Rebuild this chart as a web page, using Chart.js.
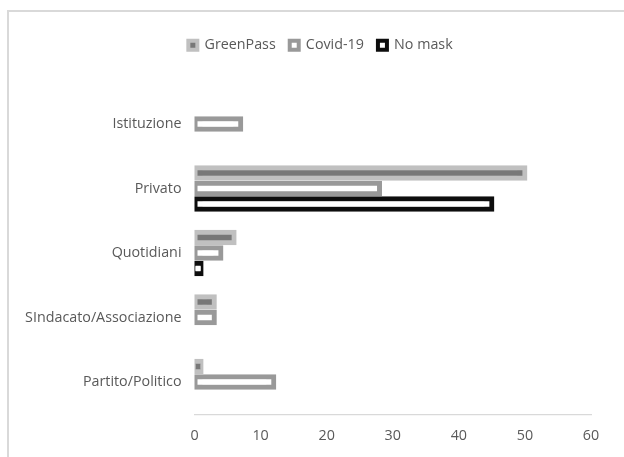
<!DOCTYPE html>
<html>
<head>
<meta charset="utf-8">
<script src="https://cdn.jsdelivr.net/npm/chart.js@4/dist/chart.umd.min.js"></script>
<style>
  html, body { margin: 0; padding: 0; background: #ffffff; }
  #wrap { position: relative; width: 624px; height: 457px; }
</style>
</head>
<body>
<div id="wrap"><canvas id="chart" width="624" height="457"></canvas></div>
<script>
// Sources of the messages, top to bottom
const categories = ['Istituzione', 'Privato', 'Quotidiani', 'SIndacato/Associazione', 'Partito/Politico'];
// Counts per theme
const greenPass = [null, 50, 6, 3, 1];
const covid19   = [7, 28, 4, 3, 12];
const noMask    = [null, 45, 1, null, null];
// Value axis ticks
const xTicks = [0, 10, 20, 30, 40, 50, 60];

const FONT = '"Open Sans", Lato, sans-serif';
const TEXT = '#595959';

// Light frame along the top and left of the chart
const framePlugin = {
  id: 'frame',
  beforeDraw(chart) {
    const ctx = chart.ctx;
    ctx.save();
    ctx.strokeStyle = '#d9d9d9';
    ctx.lineWidth = 2;
    ctx.beginPath();
    ctx.moveTo(8, chart.height);
    ctx.lineTo(8, 11);
    ctx.lineTo(chart.width, 11);
    ctx.stroke();
    ctx.restore();
  }
};

// Give the legend a fixed block height so the plot starts lower,
// and centre it over the whole canvas rather than the padded area
const legendSpacer = {
  id: 'legendSpacer',
  beforeLayout(chart) {
    const lg = chart.legend;
    if (lg && !lg._spaced) {
      const fit = lg.fit;
      lg.fit = function () {
        fit.apply(this, arguments);
        this.height = 67.75;
      };
      lg._spaced = true;
    }
  },
  afterLayout(chart) {
    const lg = chart.legend;
    if (lg) {
      lg.left += 25;
      lg.right += 25;
    }
  }
};

const barStyle = {
  borderWidth: 5,
  borderSkipped: false,
  inflateAmount: 2.5,
  barPercentage: 0.677,
  categoryPercentage: 0.721,
  clip: { left: 0, top: false, right: false, bottom: false }
};

new Chart(document.getElementById('chart'), {
  type: 'bar',
  data: {
    labels: categories,
    datasets: [
      Object.assign({ label: 'GreenPass', data: greenPass, backgroundColor: '#787878', borderColor: '#c0c0c0' }, barStyle),
      Object.assign({ label: 'Covid-19', data: covid19, backgroundColor: '#ffffff', borderColor: '#999999' }, barStyle),
      Object.assign({ label: 'No mask', data: noMask, backgroundColor: '#ffffff', borderColor: '#0d0d0d' }, barStyle)
    ]
  },
  options: {
    indexAxis: 'y',
    responsive: false,
    animation: false,
    layout: { padding: { top: 24, right: 33, bottom: 0, left: 0 } },
    plugins: {
      tooltip: { enabled: false },
      legend: {
        position: 'top',
        align: 'center',
        labels: {
          color: TEXT,
          font: { family: FONT, size: 14.3 },
          boxWidth: 9,
          boxHeight: 9,
          padding: 14,
          generateLabels(chart) {
            const items = Chart.defaults.plugins.legend.labels.generateLabels(chart);
            items.forEach(it => { it.lineWidth = 4; });
            return items;
          }
        }
      }
    },
    scales: {
      x: {
        type: 'linear',
        min: xTicks[0],
        max: xTicks[xTicks.length - 1],
        afterBuildTicks(scale) { scale.ticks = xTicks.map(v => ({ value: v })); },
        afterFit(scale) { scale.height = 42.75; },
        grid: { display: true, color: 'rgba(0,0,0,0)', drawTicks: false },
        border: { display: true, color: '#d9d9d9', width: 1.3 },
        ticks: { color: TEXT, font: { family: FONT, size: 14.3 }, padding: 13 }
      },
      y: {
        afterFit(scale) { scale.width = 194.5; },
        grid: { display: false, drawTicks: false },
        border: { display: false },
        ticks: { color: TEXT, font: { family: FONT, size: 14.3 }, padding: 13 }
      }
    }
  },
  plugins: [framePlugin, legendSpacer]
});
</script>
</body>
</html>
